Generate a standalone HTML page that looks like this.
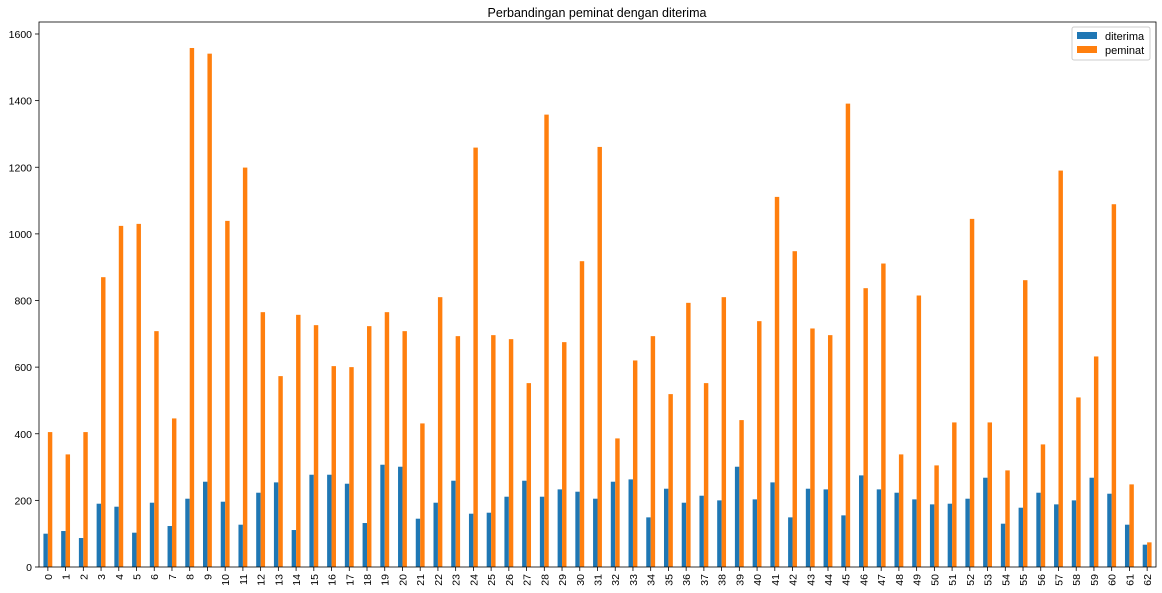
<!DOCTYPE html>
<html><head><meta charset="utf-8"><style>
body{margin:0;background:#fff;}
svg{display:block;font-family:"Liberation Sans","DejaVu Sans",sans-serif;}
</style></head><body>
<svg id="chart" width="1162" height="593" viewBox="0 0 1162 593">
<text x="597" y="17" text-anchor="middle" font-size="12.5" fill="#000">Perbandingan peminat dengan diterima</text>
<g id="bars"></g>
<g id="axes"></g>
<g>
<rect x="1072" y="27" width="78" height="33" fill="#fff" stroke="#ccc" rx="2"/>
<rect x="1077" y="32" width="20" height="7" fill="#1f77b4"/>
<text x="1105" y="40" font-size="11">diterima</text>
<rect x="1077" y="46" width="20" height="7" fill="#ff7f0e"/>
<text x="1105" y="54" font-size="11">peminat</text>
</g>
</svg>
<script>
const diterima=[100,108,87,190,181,103,193,123,205,256,196,127,223,254,111,277,277,250,132,307,301,145,193,259,160,163,211,259,211,233,226,205,256,263,149,235,193,214,200,301,203,254,149,235,233,155,275,233,223,203,188,190,205,268,130,178,223,188,200,268,220,127,67];
const peminat=[405,338,405,870,1024,1030,708,446,1558,1541,1039,1199,765,573,757,726,603,600,723,765,708,431,810,693,1259,696,684,552,1358,675,918,1261,386,620,693,519,793,552,810,441,738,1111,948,716,696,1391,837,911,338,815,305,434,1045,434,290,861,368,1190,509,632,1089,248,74];
const yTicks=[0,200,400,600,800,1000,1200,1400,1600];
const NS="http://www.w3.org/2000/svg";
const L=39,R=1156,T=22,B=567;
const n=diterima.length;
const step=(R-L)/n;
function xc(i){return L+step*(i+0.5);}
function y(v){return B-v*(B-34)/1600;}
const bars=document.getElementById('bars'),axes=document.getElementById('axes');
function mk(tag,attrs,parent){const e=document.createElementNS(NS,tag);for(const k in attrs)e.setAttribute(k,attrs[k]);parent.appendChild(e);return e;}
const bw=step*0.25;
for(let i=0;i<n;i++){
 const a=mk('rect',{x:xc(i)-bw,y:y(diterima[i]),width:bw,height:B-y(diterima[i]),fill:'#1f77b4'},bars);
 
 
 const b=mk('rect',{x:xc(i),y:y(peminat[i]),width:bw,height:B-y(peminat[i]),fill:'#ff7f0e'},bars);
 
 
 mk('line',{x1:xc(i),x2:xc(i),y1:B,y2:B+4,stroke:'#000','stroke-width':0.8},axes);
 const t=mk('text',{x:0,y:0,'font-size':10.5,'text-anchor':'end',transform:`translate(${xc(i)+4},${B+7}) rotate(-90)`},axes);
 t.textContent=i;
 
 
}
yTicks.forEach(v=>{
 mk('line',{x1:L-4,x2:L,y1:y(v),y2:y(v),stroke:'#000','stroke-width':0.8},axes);
 const t=mk('text',{x:L-7,y:y(v)+4,'font-size':10.5,'text-anchor':'end'},axes);
 t.textContent=v;
 
 
});
const fr=mk('rect',{x:L,y:T,width:R-L,height:B-T,fill:'none',stroke:'#000','stroke-width':0.8},axes);


</script>
</body></html>
